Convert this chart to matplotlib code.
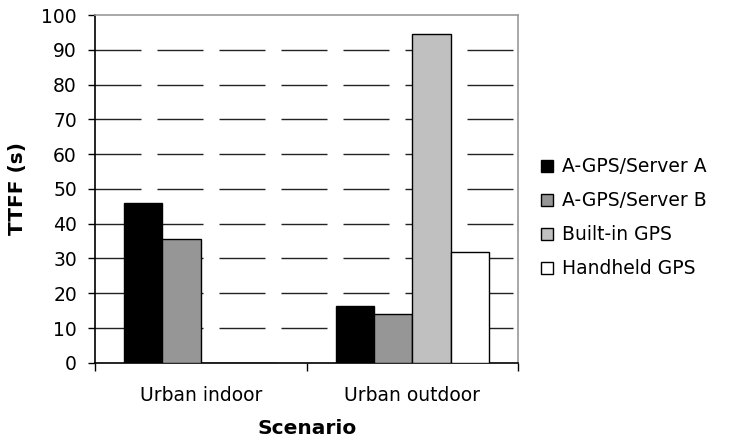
import numpy as np
import matplotlib.pyplot as plt

# TTFF per scenario and receiver
scenarios = ["Urban indoor", "Urban outdoor"]
series = ["A-GPS/Server A", "A-GPS/Server B", "Built-in GPS", "Handheld GPS"]
server_a = [46, 16.2]
server_b = [35.5, 14]
builtin = [0, 94.5]
handheld = [0, 32]
colors = ["#000000", "#969696", "#c0c0c0", "#ffffff"]

values = [server_a, server_b, builtin, handheld]

fig = plt.figure(figsize=(7.31, 4.43), dpi=100)
ax = fig.add_axes([0.130, 0.181, 0.579, 0.785])

x = np.arange(len(scenarios))
width = 1 / 5.5  # gap width 150%
for i, (name, vals, c) in enumerate(zip(series, values, colors)):
    pos = x - 2 * width + (i + 0.5) * width
    ax.bar(pos, vals, width, color=c, edgecolor="black", linewidth=1,
           label=name, zorder=3)

ax.set_xlim(-0.5, len(scenarios) - 0.5)
ax.set_ylim(0, 100)
ax.set_yticks(np.arange(0, 101, 10))

# long dash gridlines
for yv in range(10, 100, 10):
    ax.axhline(yv, color="#222222", lw=1, zorder=1,
               linestyle=(0, (46 * 0.72, 16 * 0.72)))

fs = 13.5
ax.set_xticks(x)
ax.set_xticklabels(scenarios)
ax.set_xticks(np.arange(-0.5, len(scenarios)), minor=True)
ax.tick_params(axis="x", which="major", length=0, pad=17, labelsize=fs)
ax.tick_params(axis="x", which="minor", length=6, width=1, color="black")
ax.tick_params(axis="y", length=5, width=1, labelsize=fs, pad=8)

for side in ["left", "bottom"]:
    ax.spines[side].set_color("black")
    ax.spines[side].set_linewidth(1.2)
for side in ["top", "right"]:
    ax.spines[side].set_color("#9a9a9a")
    ax.spines[side].set_linewidth(1.2)

ax.set_ylabel("TTFF (s)", fontsize=14.5, fontweight="bold", labelpad=10)
ax.set_xlabel("Scenario", fontsize=14.5, fontweight="bold", labelpad=10)

fig.legend(loc="center left", bbox_to_anchor=(0.717, 0.508), frameon=False,
           fontsize=fs, handlelength=0.62, handleheight=0.62,
           handletextpad=0.5, labelspacing=0.8)

fig.savefig("out.png", dpi=100)
